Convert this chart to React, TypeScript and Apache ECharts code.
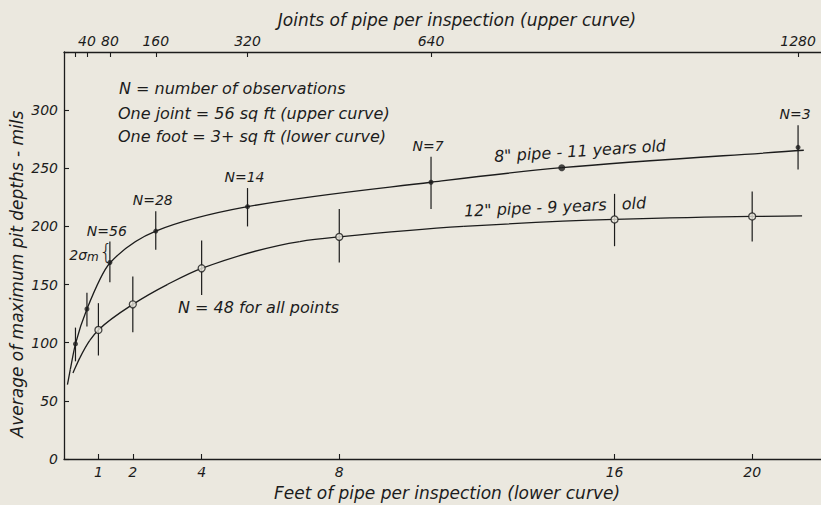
import React, { useEffect, useRef } from "react";
import * as echarts from "echarts";

// ---------- data ----------
const feetTicks = [1, 2, 4, 8, 16, 20];
const jointTickValues = [20, 40, 80, 160, 320, 640, 1280];
const jointLabelValues = [40, 80, 160, 320, 640, 1280];

// 8" pipe (upper curve), x in joints
const upperJoints = [20, 40, 80, 160, 320, 640, 1280];
const upperMean = [99, 129, 169, 196, 217, 238, 268];
const upperLow = [84, 114, 152, 180, 200, 215, 249];
const upperHigh = [113, 143, 187, 213, 233, 260, 287];
const upperN = ["", "", "N=56", "N=28", "N=14", "N=7", "N=3"];
const upperExtraJoints = [868];
const upperExtraValue = [250.5];

// fitted upper curve
const upperCurveJoints = [6, 11, 20, 40, 80, 160, 320, 640, 868, 1290];
const upperCurveVals = [64, 77, 99, 129, 168.5, 196, 217, 238, 250.5, 265.5];

// 12" pipe (lower curve), x in feet
const lowerFeet = [1, 2, 4, 8, 16, 20];
const lowerMean = [111, 133, 164, 191, 206, 208.6];
const lowerLow = [89, 109, 141, 169, 183, 187];
const lowerHigh = [134, 157, 188, 215, 228, 230];

// fitted lower curve
const lowerCurveFeet = [0.26, 0.46, 0.75, 1, 2, 3, 4, 6.85, 8, 11.6, 16, 20, 21.45];
const lowerCurveVals = [74, 87, 102, 111, 133, 150, 164, 187, 191, 200, 206, 208.6, 209];

// ---------- style ----------
const INK = "#1c1c1c";
const BG = "#ebe8df";
const FONT = '"DejaVu Sans", "Liberation Sans", sans-serif';

const txt = (text: string, x: number, y: number, opts: any = {}) => ({
  type: "text",
  x,
  y,
  rotation: opts.rotation || 0,
  z: 100,
  style: {
    text,
    x: 0,
    y: 0,
    fill: INK,
    fontFamily: FONT,
    fontStyle: "italic",
    fontSize: opts.fontSize || 16,
    align: opts.align || "left",
    verticalAlign: "middle",
    rich: opts.rich,
  },
});

function errorBars(labels: string[] | null) {
  return (params: any, api: any) => {
    const x = api.value(0);
    const lo = api.value(2);
    const hi = api.value(3);
    const p1 = api.coord([x, lo]);
    const p2 = api.coord([x, hi]);
    const children: any[] = [
      {
        type: "line",
        shape: { x1: p1[0], y1: p1[1], x2: p2[0], y2: p2[1] },
        style: { stroke: INK, lineWidth: 1.2 },
      },
    ];
    const lab = labels ? labels[params.dataIndex] : "";
    if (lab) {
      children.push({
        type: "text",
        style: {
          text: lab,
          x: p2[0] - 3,
          y: p2[1] - 11,
          align: "center",
          verticalAlign: "middle",
          fill: INK,
          fontFamily: FONT,
          fontStyle: "italic",
          fontSize: 14,
        },
      });
    }
    return { type: "group", children };
  };
}

// shape-preserving smooth curve (monotone cubic) drawn segment by segment in pixel space
function smoothCurve(xs: number[], ys: number[]) {
  return (params: any, api: any) => {
    const i = params.dataIndex;
    const n = xs.length;
    if (i >= n - 1) return { type: "group", children: [] };
    const P = xs.map((x, k) => api.coord([x, ys[k]]));
    const h: number[] = [];
    const d: number[] = [];
    for (let k = 0; k < n - 1; k++) {
      h[k] = P[k + 1][0] - P[k][0];
      d[k] = (P[k + 1][1] - P[k][1]) / h[k];
    }
    const m: number[] = [];
    m[0] = d[0];
    m[n - 1] = d[n - 2];
    for (let k = 1; k < n - 1; k++) {
      if (d[k - 1] * d[k] <= 0) m[k] = 0;
      else {
        const w1 = 2 * h[k] + h[k - 1];
        const w2 = h[k] + 2 * h[k - 1];
        m[k] = (w1 + w2) / (w1 / d[k - 1] + w2 / d[k]);
      }
    }
    const a = P[i];
    const b = P[i + 1];
    const hh = h[i] / 3;
    return {
      type: "bezierCurve",
      shape: {
        x1: a[0],
        y1: a[1],
        x2: b[0],
        y2: b[1],
        cpx1: a[0] + hh,
        cpy1: a[1] + m[i] * hh,
        cpx2: b[0] - hh,
        cpy2: b[1] - m[i + 1] * hh,
      },
      style: { stroke: INK, lineWidth: 1.3, fill: null },
    };
  };
}

export default function App() {
  const ref = useRef<HTMLDivElement>(null);

  useEffect(() => {
    if (!ref.current) return;
    const chart = echarts.init(ref.current, null, { renderer: "svg" });
    const axisLabelStyle = {
      color: INK,
      fontFamily: FONT,
      fontStyle: "italic",
      fontSize: 14,
    };
    const option: any = {
      animation: false,
      backgroundColor: BG,
      grid: { left: 64, right: 0, top: 52, bottom: 46, containLabel: false },
      xAxis: [
        {
          type: "value",
          position: "bottom",
          min: 0,
          max: 22,
          axisLine: { show: true, onZero: false, lineStyle: { color: INK, width: 1.3 } },
          splitLine: { show: false },
          axisTick: {
            show: true,
            inside: true,
            length: 5,
            customValues: feetTicks,
            lineStyle: { color: INK, width: 1.1 },
          },
          axisLabel: {
            ...axisLabelStyle,
            customValues: feetTicks,
            margin: 6,
            formatter: (v: number) => String(v),
          },
        },
        {
          type: "value",
          position: "top",
          min: 0,
          max: 1320,
          axisLine: { show: true, onZero: false, lineStyle: { color: INK, width: 1.3 } },
          splitLine: { show: false },
          axisTick: {
            show: true,
            inside: true,
            length: 5,
            customValues: jointTickValues,
            lineStyle: { color: INK, width: 1.1 },
          },
          axisLabel: {
            ...axisLabelStyle,
            customValues: jointLabelValues,
            margin: 4,
            formatter: (v: number) => String(v),
          },
        },
      ],
      yAxis: {
        type: "value",
        min: 0,
        max: 350,
        interval: 50,
        axisLine: { show: true, onZero: false, lineStyle: { color: INK, width: 1.3 } },
        splitLine: { show: false },
        axisTick: { show: true, inside: true, length: 5, lineStyle: { color: INK, width: 1.1 } },
        axisLabel: {
          ...axisLabelStyle,
          margin: 6,
          formatter: (v: number) => (v > 300 ? "" : String(v)),
        },
      },
      series: [
        {
          type: "custom",
          xAxisIndex: 1,
          yAxisIndex: 0,
          clip: false,
          silent: true,
          encode: { x: 0, y: 1 },
          data: upperCurveJoints.map((x, i) => [x, upperCurveVals[i]]),
          renderItem: smoothCurve(upperCurveJoints, upperCurveVals),
        },
        {
          type: "custom",
          xAxisIndex: 0,
          yAxisIndex: 0,
          clip: false,
          silent: true,
          encode: { x: 0, y: 1 },
          data: lowerCurveFeet.map((x, i) => [x, lowerCurveVals[i]]),
          renderItem: smoothCurve(lowerCurveFeet, lowerCurveVals),
        },
        {
          type: "custom",
          xAxisIndex: 1,
          yAxisIndex: 0,
          clip: false,
          encode: { x: 0, y: 1 },
          data: upperJoints.map((x, i) => [x, upperMean[i], upperLow[i], upperHigh[i]]),
          renderItem: errorBars(upperN),
        },
        {
          type: "custom",
          xAxisIndex: 0,
          yAxisIndex: 0,
          clip: false,
          encode: { x: 0, y: 1 },
          data: lowerFeet.map((x, i) => [x, lowerMean[i], lowerLow[i], lowerHigh[i]]),
          renderItem: errorBars(null),
        },
        {
          type: "scatter",
          xAxisIndex: 1,
          yAxisIndex: 0,
          symbol: "circle",
          symbolSize: 5,
          itemStyle: { color: INK },
          data: upperJoints.map((x, i) => [x, upperMean[i]]),
          z: 5,
        },
        {
          type: "scatter",
          xAxisIndex: 1,
          yAxisIndex: 0,
          symbol: "circle",
          symbolSize: 7,
          itemStyle: { color: INK },
          data: upperExtraJoints.map((x, i) => [x, upperExtraValue[i]]),
          z: 5,
        },
        {
          type: "scatter",
          xAxisIndex: 0,
          yAxisIndex: 0,
          symbol: "circle",
          symbolSize: 7,
          itemStyle: { color: BG, borderColor: INK, borderWidth: 1.3 },
          data: lowerFeet.map((x, i) => [x, lowerMean[i]]),
          z: 5,
        },
      ],
      graphic: [
        txt("Average of maximum pit depths - mils", 17, 274, {
          rotation: Math.PI / 2,
          align: "center",
          fontSize: 17,
        }),
        txt("Feet of pipe per inspection (lower curve)", 447, 493, { align: "center", fontSize: 17 }),
        txt("Joints of pipe per inspection (upper curve)", 457, 20, { align: "center", fontSize: 17 }),
        txt("N = number of observations", 119, 88),
        txt("One joint = 56 sq ft (upper curve)", 118, 113),
        txt("One foot = 3+ sq ft (lower curve)", 118, 136),
        txt('8" pipe - 11 years old', 580, 151, { align: "center", rotation: 0.064 }),
        txt('12" pipe - 9 years   old', 555, 207, { align: "center", rotation: 0.045 }),
        txt("N = 48 for all points", 178, 307),
        txt("2σ{s|m}", 84, 255, {
          align: "center",
          fontSize: 14,
          rich: {
            s: { fontSize: 12, fontStyle: "italic", fontFamily: FONT, fill: INK, padding: [4, 0, 0, 0] },
          },
        }),
        {
          type: "text",
          x: 106,
          y: 252,
          z: 100,
          style: {
            text: "{",
            x: 0,
            y: 0,
            fill: INK,
            fontFamily: FONT,
            fontSize: 21,
            fontWeight: "lighter",
            align: "center",
            verticalAlign: "middle",
          },
        },
      ],
    };
    chart.setOption(option);
    return () => chart.dispose();
  }, []);

  return (
    <div
      ref={ref}
      style={{ position: "fixed", left: 0, top: 0, width: 821, height: 505, background: BG }}
    />
  );
}
